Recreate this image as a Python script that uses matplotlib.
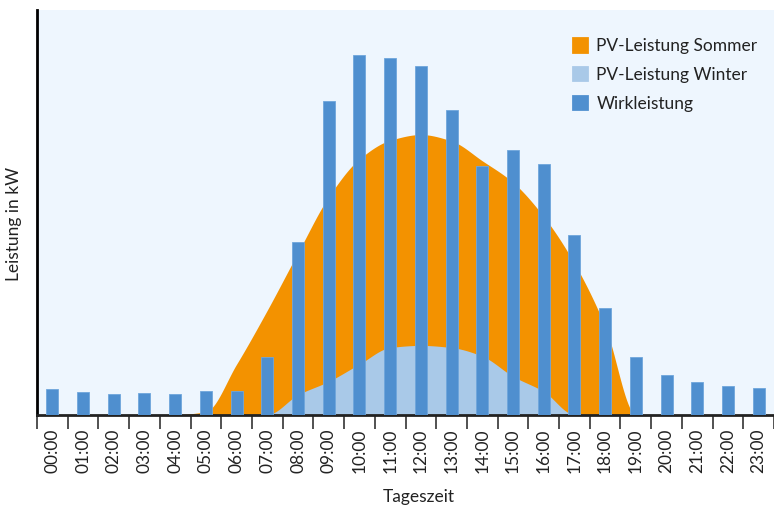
import matplotlib.pyplot as plt
import numpy as np
from matplotlib.patches import Patch

hours = ["%02d:00" % h for h in range(24)]

# Wirkleistung (kW)
wirk = [0.71, 0.63, 0.58, 0.60, 0.58, 0.64, 0.64, 1.60, 4.80, 8.70, 10.00, 9.92,
        9.68, 8.45, 6.90, 7.36, 6.95, 5.00, 2.95, 1.60, 1.10, 0.90, 0.80, 0.75]
# PV-Leistung Sommer (kW)
sommer = [0, 0, 0, 0, 0, 0.08, 1.40, 2.90, 4.50, 6.05, 7.10, 7.62,
          7.78, 7.60, 7.05, 6.45, 5.50, 4.20, 2.45, 0, 0, 0, 0, 0]
# PV-Leistung Winter (kW)
winter = [0, 0, 0, 0, 0, 0, 0, 0, 0.55, 0.92, 1.40, 1.86,
          1.92, 1.86, 1.62, 1.06, 0.64, 0, 0, 0, 0, 0, 0, 0]

c_sommer = '#f39200'
c_winter = '#a9c9e8'
c_wirk = '#4f8fcf'
c_bg = '#eef6fe'
txt = '#222222'


def monotone(x, y, n=20):
    # monotone cubic (Fritsch-Carlson), only for drawing the curve shape
    x = np.asarray(x, float)
    y = np.asarray(y, float)
    h = np.diff(x)
    d = np.diff(y) / h
    m = np.zeros_like(y)
    m[0], m[-1] = d[0], d[-1]
    for i in range(1, len(y) - 1):
        if d[i - 1] * d[i] <= 0:
            m[i] = 0
        else:
            m[i] = 3 * (h[i - 1] + h[i]) / ((2 * h[i] + h[i - 1]) / d[i - 1] + (h[i] + 2 * h[i - 1]) / d[i])
    xs, ys = [], []
    for i in range(len(y) - 1):
        t = np.linspace(0, 1, n, endpoint=False)
        h00 = 2 * t**3 - 3 * t**2 + 1
        h10 = t**3 - 2 * t**2 + t
        h01 = -2 * t**3 + 3 * t**2
        h11 = t**3 - t**2
        xs.append(x[i] + t * h[i])
        ys.append(h00 * y[i] + h10 * h[i] * m[i] + h01 * y[i + 1] + h11 * h[i] * m[i + 1])
    xs.append([x[-1]])
    ys.append([y[-1]])
    return np.concatenate(xs), np.concatenate(ys)


plt.rcParams['font.family'] = ['Lato', 'DejaVu Sans']

fig = plt.figure(figsize=(7.74, 5.09), dpi=100)
ax = fig.add_axes([37 / 774, 1 - 414.5 / 509, 1 - 37 / 774, (414.5 - 10) / 509])
ax.set_facecolor(c_bg)

pos = np.arange(len(hours))
xs, ys = monotone(pos, sommer)
ax.fill_between(xs, 0, np.clip(ys, 0, None), color=c_sommer, lw=0, zorder=1)
xw, yw = monotone(pos, winter)
ax.fill_between(xw, 0, np.clip(yw, 0, None), color=c_winter, lw=0, zorder=2)
ax.bar(pos, wirk, width=0.39, color=c_wirk, edgecolor='#6fa6dc', linewidth=0.6, zorder=3)

ax.set_xlim(-0.5, 23.39)
ax.set_ylim(0, 11.24)

ax.set_xticks(np.arange(-0.5, 24, 1))
ax.set_xticklabels([])
ax.set_xticks(pos, minor=True)
ax.set_xticklabels(hours, minor=True, rotation=90, fontsize=12.5, color=txt)
ax.tick_params(axis='x', which='major', length=10, width=1.2, color='#333333')
ax.tick_params(axis='x', which='minor', length=0, pad=10)
ax.set_yticks([])

for s in ['top', 'right']:
    ax.spines[s].set_visible(False)
ax.spines['left'].set_linewidth(2)
ax.spines['left'].set_color('black')
ax.spines['bottom'].set_linewidth(2)
ax.spines['bottom'].set_color('#222222')

fig.text(14 / 774, 1 - 224 / 509, 'Leistung in kW', rotation=90, ha='center', va='center',
         fontsize=12.5, color=txt)
fig.text(419 / 774, 1 - 497 / 509, 'Tageszeit', ha='center', va='center', fontsize=12.5, color=txt)

handles = [Patch(facecolor=c, edgecolor=c, linewidth=2, joinstyle='round')
           for c in (c_sommer, c_winter, c_wirk)]
ax.legend(handles, ['PV-Leistung Sommer', 'PV-Leistung Winter', 'Wirkleistung'],
          loc='upper left', bbox_to_anchor=(573 / 774, 1 - 38 / 509), bbox_transform=fig.transFigure,
          frameon=False, fontsize=12.5, handlelength=0.8, handleheight=0.8,
          handletextpad=0.55, labelspacing=0.74, labelcolor=txt, borderaxespad=0, borderpad=0)

fig.savefig('out.png', dpi=100)
